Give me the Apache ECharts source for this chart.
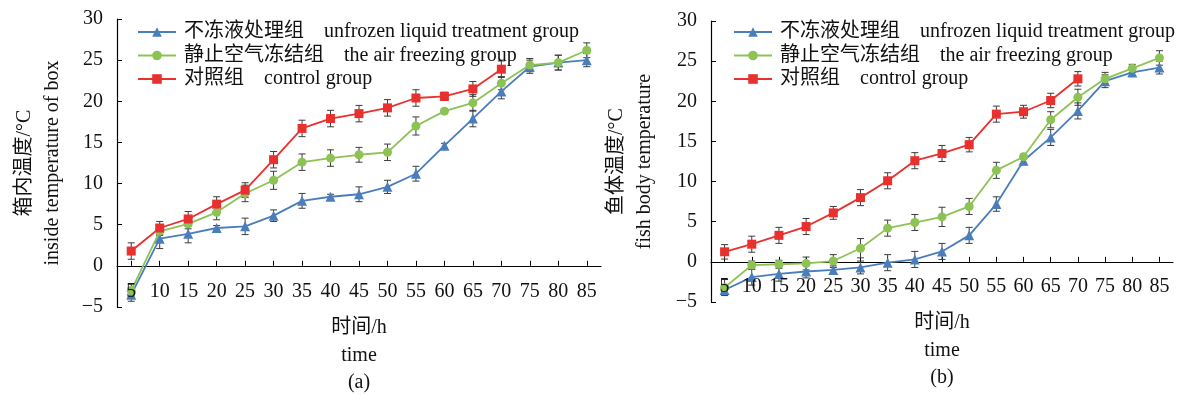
<!DOCTYPE html>
<html>
<head>
<meta charset="utf-8">
<script src="https://cdn.jsdelivr.net/npm/echarts@6/dist/echarts.min.js"></script>
<style>
html,body{margin:0;padding:0;background:#fff;}
#chart{width:1182px;height:395px;}
</style>
</head>
<body>
<div id="chart"></div>
<script>
// ---- data ----
const hours = ['5','10','15','20','25','30','35','40','45','50','55','60','65','70','75','80','85'];
const yTicks = [-5, 0, 5, 10, 15, 20, 25, 30];
const groupNames = ['不冻液处理组\u3000unfrozen liquid treatment group', '静止空气冻结组\u3000the air freezing group', '对照组\u3000control group'];

// (a) inside temperature of box
const boxUnfrozen = [-3.5, 3.3, 3.9, 4.6, 4.8, 6.1, 7.9, 8.4, 8.7, 9.6, 11.2, 14.6, 17.9, 21.2, 24.2, 24.7, 25.0];
const boxAir      = [-3.0, 4.2, 5.1, 6.5, 8.8, 10.4, 12.6, 13.1, 13.5, 13.8, 17.0, 18.8, 19.8, 22.2, 24.4, 24.7, 26.2];
const boxControl  = [1.8, 4.6, 5.7, 7.5, 9.2, 12.9, 16.7, 17.9, 18.5, 19.2, 20.4, 20.6, 21.5, 23.9];
const boxUnfrozenErr = [0.8, 1.2, 1.1, 0.3, 1.0, 0.7, 0.9, 0.3, 0.9, 0.8, 0.9, 0.3, 1.0, 0.9, 0.8, 0.9, 0.8];
const boxAirErr      = [0.8, 0.5, 0.6, 0.9, 1.0, 1.1, 1.0, 1.0, 0.9, 1.0, 1.1, 0.3, 1.0, 0.8, 0.8, 0.9, 0.9];
const boxControlErr  = [1.0, 0.8, 0.9, 0.9, 0.9, 1.0, 1.0, 1.0, 1.0, 1.0, 1.0, 0.5, 0.9, 1.0];

// (b) fish body temperature
const fishUnfrozen = [-3.5, -1.9, -1.5, -1.2, -1.0, -0.7, -0.1, 0.3, 1.3, 3.3, 7.2, 12.6, 15.5, 18.8, 22.5, 23.6, 24.2];
const fishAir      = [-3.2, -0.4, -0.3, -0.2, 0.1, 1.7, 4.2, 4.9, 5.6, 6.9, 11.4, 13.1, 17.7, 20.5, 22.8, 24.1, 25.4];
const fishControl  = [1.25, 2.2, 3.3, 4.4, 6.1, 8.0, 10.1, 12.6, 13.5, 14.6, 18.4, 18.7, 20.1, 22.8];
const fishUnfrozenErr = [0.5, 1.0, 0.9, 0.8, 0.5, 0.8, 1.0, 1.0, 1.0, 1.0, 0.9, 0.5, 1.0, 1.0, 0.8, 0.5, 0.8];
const fishAirErr      = [1.0, 0.5, 0.5, 0.8, 0.8, 1.2, 1.0, 1.0, 1.2, 1.0, 1.0, 0.3, 1.0, 1.0, 0.8, 0.5, 0.9];
const fishControlErr  = [0.9, 1.0, 1.0, 1.0, 0.8, 1.0, 1.0, 1.0, 1.0, 0.9, 1.0, 0.8, 0.9, 0.9];

// ---- styling ----
const FONT = '"Liberation Serif", "Noto Sans CJK SC", serif';
const colors = ['#4A7EBB', '#8DC254', '#E8312F'];
const symbols = ['triangle', 'circle', 'rect'];

function errData(vals, errs) {
  return vals.map((v, i) => [i, v - errs[i], v + errs[i]]);
}
function errSeries(vals, errs, idx) {
  return {
    type: 'custom',
    xAxisIndex: idx, yAxisIndex: idx,
    silent: true,
    z: 1,
    data: errData(vals, errs),
    renderItem: function (params, api) {
      const lo = api.coord([api.value(0), api.value(1)]);
      const hi = api.coord([api.value(0), api.value(2)]);
      const w = 3.5;
      const st = { stroke: '#3c3c3c', lineWidth: 1 };
      return {
        type: 'group',
        children: [
          { type: 'line', shape: { x1: lo[0], y1: lo[1], x2: hi[0], y2: hi[1] }, style: st },
          { type: 'line', shape: { x1: lo[0] - w, y1: lo[1], x2: lo[0] + w, y2: lo[1] }, style: st },
          { type: 'line', shape: { x1: hi[0] - w, y1: hi[1], x2: hi[0] + w, y2: hi[1] }, style: st }
        ]
      };
    }
  };
}
function lineSeries(name, vals, k, idx) {
  return {
    name: name, type: 'line',
    xAxisIndex: idx, yAxisIndex: idx,
    data: vals,
    symbol: symbols[k], symbolSize: k === 0 ? 10 : 9,
    lineStyle: { color: colors[k], width: 1.8 },
    itemStyle: { color: colors[k] },
    z: 3
  };
}
// labelled axis at grid bottom (line hidden), labels pulled up above the bottom edge
function xAxisLabels(idx, nameText, gap) {
  return {
    type: 'category', gridIndex: idx, data: hours,
    position: 'bottom',
    boundaryGap: true,
    z: 10,
    axisLine: { show: false, onZero: false },
    axisTick: { show: false },
    axisLabel: { interval: 0, hideOverlap: false, margin: -25, color: '#111', fontFamily: FONT, fontSize: 20 },
    name: nameText, nameLocation: 'middle', nameGap: gap, nameMoveOverlap: false,
    nameTextStyle: { fontFamily: FONT, fontSize: 20, color: '#111', lineHeight: 27.5, verticalAlign: 'top' }
  };
}
// axis line through zero with inside ticks
function xAxisZero(idx) {
  return {
    type: 'category', gridIndex: idx, data: hours,
    position: 'bottom',
    boundaryGap: true,
    axisLine: { show: true, onZero: true, lineStyle: { color: '#000', width: 1.2 } },
    axisTick: { show: true, inside: true, alignWithLabel: true, length: 5, lineStyle: { color: '#000' } },
    axisLabel: { show: false }
  };
}
function yAxis(idx, nameText, gap) {
  return {
    type: 'value', gridIndex: idx,
    min: yTicks[0], max: yTicks[yTicks.length - 1], interval: 5,
    splitLine: { show: false },
    axisLine: { show: true, onZero: false, lineStyle: { color: '#000', width: 1.2 } },
    axisTick: { show: true, inside: true, length: 5, lineStyle: { color: '#000' } },
    axisLabel: {
      margin: 14, color: '#111', fontFamily: FONT, fontSize: 20,
      formatter: v => v < 0 ? '\u2212' + Math.abs(v) : String(v)
    },
    name: nameText, nameLocation: 'middle', nameRotate: 90, nameGap: gap, nameMoveOverlap: false,
    nameTextStyle: { fontFamily: FONT, fontSize: 20, color: '#111', lineHeight: 28 }
  };
}
function legend(left) {
  return {
    orient: 'vertical', left: left, top: 22, padding: 0,
    itemWidth: 38, itemHeight: 12, itemGap: 3.5,
    data: groupNames,
    textStyle: { fontFamily: FONT, fontSize: 20, color: '#111', lineHeight: 20, padding: [0, 0, 0, 3] }
  };
}

const chart = echarts.init(document.getElementById('chart'), null, { renderer: 'canvas' });
chart.setOption({
  backgroundColor: '#fff',
  animation: false,
  color: colors,
  legend: [legend(137), legend(733)],
  grid: [
    { left: 117, right: 581, top: 19, bottom: 88, containLabel: false, outerBoundsMode: 'none' },
    { left: 711, right: 9, top: 21, bottom: 93, containLabel: false, outerBoundsMode: 'none' }
  ],
  xAxis: [
    xAxisLabels(0, '时间/h\ntime\n(a)', 7),
    xAxisLabels(1, '时间/h\ntime\n(b)', 7),
    xAxisZero(0),
    xAxisZero(1)
  ],
  yAxis: [yAxis(0, '箱内温度/°C\ninside temperature of box', 50), yAxis(1, '鱼体温度/°C\nfish body temperature', 52)],
  series: [
    errSeries(boxUnfrozen, boxUnfrozenErr, 0),
    errSeries(boxAir, boxAirErr, 0),
    errSeries(boxControl, boxControlErr, 0),
    lineSeries(groupNames[0], boxUnfrozen, 0, 0),
    lineSeries(groupNames[1], boxAir, 1, 0),
    lineSeries(groupNames[2], boxControl, 2, 0),
    errSeries(fishUnfrozen, fishUnfrozenErr, 1),
    errSeries(fishAir, fishAirErr, 1),
    errSeries(fishControl, fishControlErr, 1),
    lineSeries(groupNames[0], fishUnfrozen, 0, 1),
    lineSeries(groupNames[1], fishAir, 1, 1),
    lineSeries(groupNames[2], fishControl, 2, 1)
  ]
});
</script>
</body>
</html>
